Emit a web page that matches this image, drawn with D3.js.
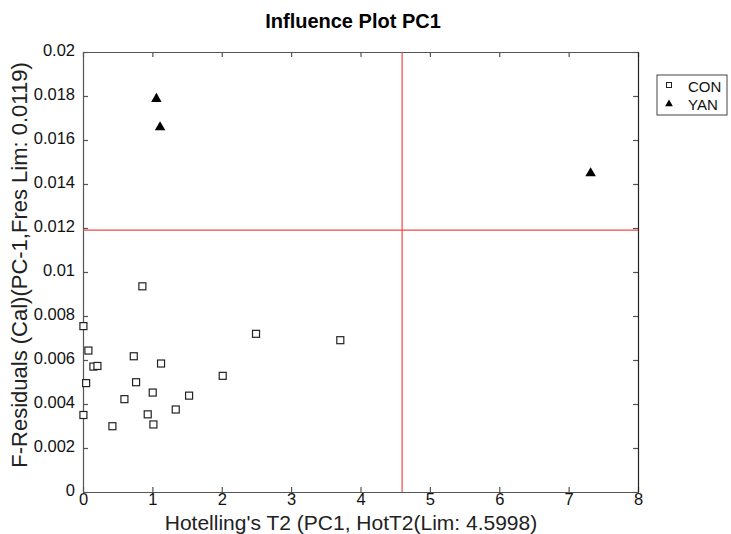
<!DOCTYPE html>
<html>
<head>
<meta charset="utf-8">
<script src="https://cdn.jsdelivr.net/npm/d3@7"></script>
<style>
  html, body { margin: 0; padding: 0; background: #fff; }
  svg { display: block; font-family: "Liberation Sans", Arial, sans-serif; }
</style>
</head>
<body>
<svg id="chart" width="731" height="534"></svg>
<script>
// Hotelling's T2 vs F-residuals per sample, PC1
const conT2  = [0.006, 0.078, 0.15, 0.208, 0.045, 0.006, 0.424, 0.597, 0.732, 0.765, 0.933, 1.005, 1.015, 1.125, 1.337, 1.529, 2.014, 2.494, 3.709, 0.856];
const conRes = [0.00754, 0.00643, 0.00570, 0.00573, 0.00495, 0.00350, 0.00299, 0.00422, 0.00617, 0.00499, 0.00353, 0.00452, 0.00307, 0.00584, 0.00375, 0.00438, 0.00528, 0.00719, 0.00690, 0.00935];
const yanT2  = [1.058, 1.111, 7.317];
const yanRes = [0.01787, 0.01658, 0.01449];

const hotLimit  = 4.5998;
const fresLimit = 0.0119;

const xTicks = [0, 1, 2, 3, 4, 5, 6, 7, 8];
const yTicks = [0, 0.002, 0.004, 0.006, 0.008, 0.01, 0.012, 0.014, 0.016, 0.018, 0.02];
const seriesNames = ["CON", "YAN"];

const svg = d3.select("#chart");
const plotL = 83, plotR = 638, plotT = 52, plotB = 492;

const x = d3.scaleLinear().domain([0, 8]).range([plotL, plotR]);
const y = d3.scaleLinear().domain([0, 0.02]).range([plotB, plotT]);

const axisColor = "#555";
const fmtY = d => String(+d.toFixed(3));

// frame with inward ticks on all four sides
const gB = svg.append("g").attr("transform", `translate(0,${plotB})`)
  .call(d3.axisBottom(x).tickValues(xTicks).tickSizeInner(-5).tickSizeOuter(0).tickPadding(3).tickFormat(d3.format("d")));
const gT = svg.append("g").attr("transform", `translate(0,${plotT})`)
  .call(d3.axisTop(x).tickValues(xTicks).tickSizeInner(-5).tickSizeOuter(0).tickFormat(""));
const gL = svg.append("g").attr("transform", `translate(${plotL},0)`)
  .call(d3.axisLeft(y).tickValues(yTicks).tickSizeInner(-5).tickSizeOuter(0).tickPadding(8).tickFormat(fmtY));
const gR = svg.append("g").attr("transform", `translate(${plotR},0)`)
  .call(d3.axisRight(y).tickValues(yTicks).tickSizeInner(-5).tickSizeOuter(0).tickFormat(""));

[gB, gT, gL, gR].forEach(g => {
  g.select(".domain").attr("stroke", axisColor).attr("stroke-width", 1.2);
  g.selectAll(".tick line").attr("stroke", axisColor).attr("stroke-width", 1.2);
  g.selectAll(".tick text").attr("fill", "#111").style("font-size", "16.5px");
});
gR.select(".domain").attr("stroke", "#222");
gB.selectAll(".tick text").attr("dy", "0.62em");
gL.selectAll(".tick text").attr("dy", "0.2em");

// limit lines
svg.append("line")
  .attr("x1", x(hotLimit)).attr("x2", x(hotLimit))
  .attr("y1", y(0.02)).attr("y2", y(0))
  .attr("stroke", "#f04848").attr("stroke-width", 1.2);
svg.append("line")
  .attr("x1", x(0)).attr("x2", x(8))
  .attr("y1", y(fresLimit)).attr("y2", y(fresLimit))
  .attr("stroke", "#f04848").attr("stroke-width", 1.2);

// CON samples: open squares
const sq = 7;
svg.append("g").selectAll("rect")
  .data(d3.zip(conT2, conRes))
  .join("rect")
  .attr("x", d => x(d[0]) - sq / 2)
  .attr("y", d => y(d[1]) - sq / 2)
  .attr("width", sq).attr("height", sq)
  .attr("fill", "#fff").attr("stroke", "#222").attr("stroke-width", 1.2);

// YAN samples: filled triangles
const tri = d3.symbol().type(d3.symbolTriangle).size(48);
svg.append("g").selectAll("path")
  .data(d3.zip(yanT2, yanRes))
  .join("path")
  .attr("d", tri)
  .attr("transform", d => `translate(${x(d[0])},${y(d[1])})`)
  .attr("fill", "#000");

// title and axis labels
svg.append("text")
  .attr("x", 353).attr("y", 28)
  .attr("text-anchor", "middle")
  .style("font-size", "20px").style("font-weight", "bold")
  .attr("fill", "#000")
  .text("Influence Plot PC1");

svg.append("text")
  .attr("x", 351).attr("y", 530)
  .attr("text-anchor", "middle")
  .style("font-size", "21px")
  .attr("fill", "#222")
  .text("Hotelling's T2 (PC1, HotT2(Lim: 4.5998)");

svg.append("text")
  .attr("transform", "translate(27,265) rotate(-90)")
  .attr("text-anchor", "middle")
  .style("font-size", "22px")
  .attr("fill", "#222")
  .text("F-Residuals (Cal)(PC-1,Fres Lim: 0.0119)");

// legend
const lg = svg.append("g").attr("transform", "translate(657,75)");
lg.append("rect").attr("width", 70).attr("height", 40)
  .attr("fill", "#fff").attr("stroke", "#444").attr("stroke-width", 1);
lg.append("rect").attr("x", 9.5).attr("y", 7.5).attr("width", 5).attr("height", 5)
  .attr("fill", "#fff").attr("stroke", "#222").attr("stroke-width", 1);
lg.append("path").attr("d", d3.symbol().type(d3.symbolTriangle).size(26))
  .attr("transform", "translate(12,29)").attr("fill", "#000");
lg.selectAll("text.lbl").data(seriesNames).join("text")
  .attr("class", "lbl")
  .attr("x", 31).attr("y", (d, i) => 16.5 + i * 18)
  .style("font-size", "15px").attr("fill", "#111")
  .text(d => d);
</script>
</body>
</html>
